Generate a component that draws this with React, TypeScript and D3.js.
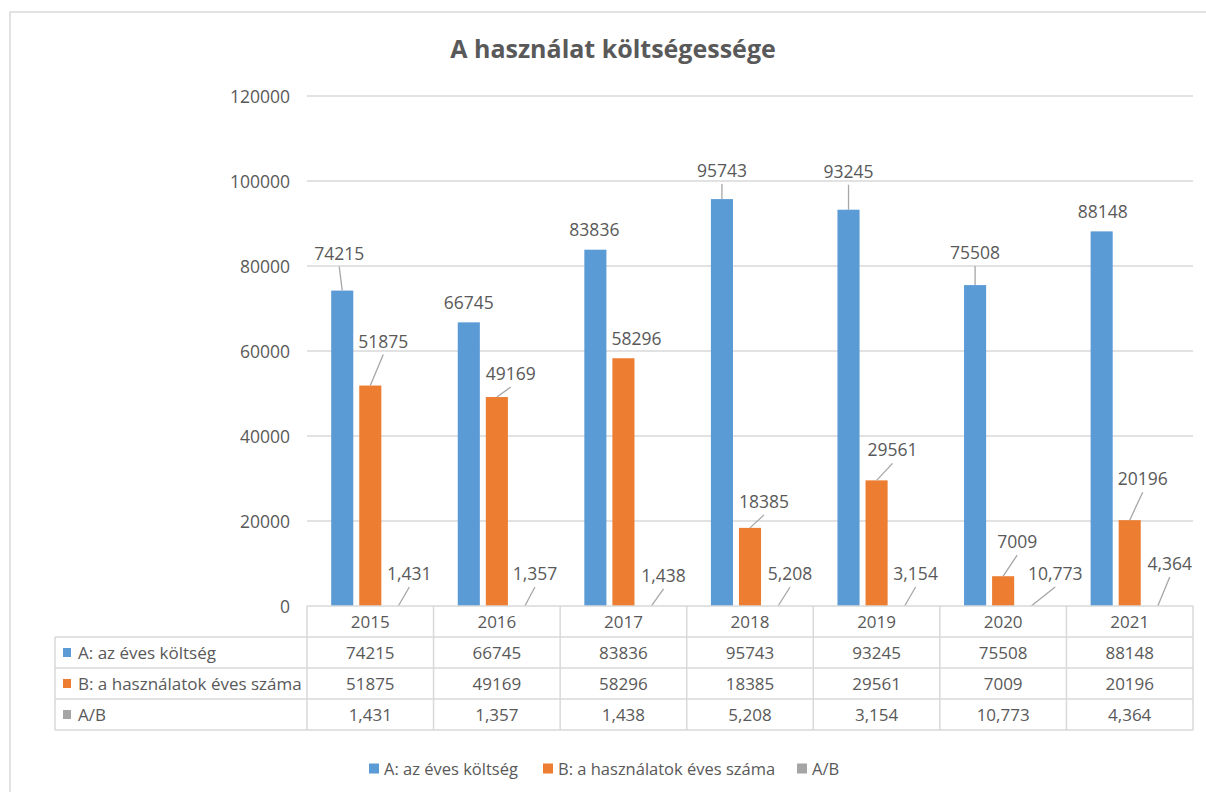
import React from "react";
import * as d3 from "d3";

// chart data
const years = ["2015", "2016", "2017", "2018", "2019", "2020", "2021"];
const seriesNames = ["A: az éves költség", "B: a használatok éves száma", "A/B"];
const costA = [74215, 66745, 83836, 95743, 93245, 75508, 88148];
const usesB = [51875, 49169, 58296, 18385, 29561, 7009, 20196];
const ratioAB = [1.431, 1.357, 1.438, 5.208, 3.154, 10.773, 4.364];
const yTicks = [0, 20000, 40000, 60000, 80000, 100000, 120000];

// manual label offsets (label centre relative to bar top centre), as dragged in the original
const labelOffsets: [number, number][][] = [
  [[-3, -38], [0, -20], [-1, -21], [0, -29], [0, -39], [0, -33], [1, -20]],
  [[13, -45], [14, -24], [13, -20], [14, -27], [16, -31], [14, -35], [13, -42]],
  [[11, -33], [10, -33], [12, -31], [12, -33], [11, -33], [24, -33], [12, -43]],
];

const colors = ["#5b9bd5", "#ed7d31", "#a5a5a5"];
const textColor = "#595959";
const gridColor = "#d9d9d9";
const font = "'Open Sans', 'Liberation Sans', sans-serif";

const W = 1206;
const H = 792;
const plot = { left: 307, right: 1193, top: 96, bottom: 606 };
const rowH = 31;
const tableLeft = 55;

const huLocale = d3.formatLocale({ decimal: ",", thousands: "\u00a0", grouping: [3], currency: ["", " Ft"] });
const fmtRatio = huLocale.format(".3f");
const fmtInt = d3.format("d");

const App: React.FC = () => {
  const values = [costA, usesB, ratioAB];
  const fmts = [fmtInt, fmtInt, fmtRatio];

  const x = d3.scaleBand<string>().domain(years).range([plot.left, plot.right]).padding(0);
  const step = x.step();
  const barW = step / 5.73; // excel: gap width 219%, overlap -27%
  const inner = d3
    .scaleBand<string>()
    .domain(seriesNames)
    .range([barW * 1.095, step - barW * 1.095])
    .paddingInner(0.27 / 1.27)
    .paddingOuter(0);

  const y = d3.scaleLinear().domain([0, 120000]).range([plot.bottom, plot.top]);

  const rowsTop = plot.bottom + rowH;
  const tableBottom = plot.bottom + rowH * 4;

  return (
    <svg
      width={W}
      height={H}
      style={{ position: "absolute", left: 0, top: 0, background: "#fff" }}
      fontFamily={font}
    >
      <rect x={10} y={12} width={W + 20} height={H + 20} fill="#fff" stroke={gridColor} strokeWidth={1.5} />

      <text x={613} y={48} textAnchor="middle" dominantBaseline="central" fontSize={25} fontWeight="bold" fill={textColor}>
        A használat költségessége
      </text>

      {/* gridlines + y ticks */}
      {yTicks.map((t) => (
        <g key={t}>
          {t > 0 && <line x1={plot.left} x2={plot.right} y1={y(t)} y2={y(t)} stroke={gridColor} strokeWidth={1.5} />}
          <text x={290} y={y(t)} textAnchor="end" dominantBaseline="central" fontSize={17.5} fill={textColor}>
            {t}
          </text>
        </g>
      ))}

      {/* bars */}
      {values.map((vals, si) =>
        vals.map((v, i) => {
          const bx = (x(years[i]) ?? 0) + (inner(seriesNames[si]) ?? 0);
          return (
            <rect
              key={`b${si}-${i}`}
              x={bx}
              y={y(v)}
              width={inner.bandwidth()}
              height={plot.bottom - y(v)}
              fill={colors[si]}
            />
          );
        })
      )}

      {/* data labels with leader lines */}
      {values.map((vals, si) =>
        vals.map((v, i) => {
          const cx = (x(years[i]) ?? 0) + (inner(seriesNames[si]) ?? 0) + inner.bandwidth() / 2;
          const top = y(v);
          const [dx, dy] = labelOffsets[si][i];
          const lx = cx + dx;
          const ly = top + dy;
          const gap = top - (ly + 14);
          return (
            <g key={`l${si}-${i}`}>
              {gap > 8 && (
                <line x1={lx} y1={ly + 14} x2={cx} y2={top} stroke="#a6a6a6" strokeWidth={1.3} />
              )}
              <text x={lx} y={ly} textAnchor="middle" dominantBaseline="central" fontSize={17.5} fill={textColor}>
                {fmts[si](v)}
              </text>
            </g>
          );
        })
      )}

      {/* data table */}
      <g stroke={gridColor} strokeWidth={1.5} fill="none">
        <line x1={plot.left} x2={plot.right} y1={plot.bottom} y2={plot.bottom} />
        {[1, 2, 3, 4].map((r) => (
          <line
            key={r}
            x1={tableLeft}
            x2={plot.right}
            y1={plot.bottom + rowH * r}
            y2={plot.bottom + rowH * r}
          />
        ))}
        <line x1={tableLeft} x2={tableLeft} y1={rowsTop} y2={tableBottom} />
        {years.map((yr) => (
          <line key={yr} x1={x(yr)} x2={x(yr)} y1={plot.bottom} y2={tableBottom} />
        ))}
        <line x1={plot.right} x2={plot.right} y1={plot.bottom} y2={tableBottom} />
      </g>

      {years.map((yr) => (
        <text
          key={`yr${yr}`}
          x={(x(yr) ?? 0) + step / 2}
          y={plot.bottom + rowH / 2}
          textAnchor="middle"
          dominantBaseline="central"
          fontSize={17}
          fill={textColor}
        >
          {yr}
        </text>
      ))}

      {seriesNames.map((name, si) => {
        const cy = rowsTop + rowH * si + rowH / 2;
        return (
          <g key={`row${si}`}>
            <rect x={63} y={cy - 4.5} width={8} height={9} fill={colors[si]} />
            <text x={78} y={cy} dominantBaseline="central" fontSize={17} fill={textColor}>
              {name}
            </text>
            {values[si].map((v, i) => (
              <text
                key={i}
                x={(x(years[i]) ?? 0) + step / 2}
                y={cy}
                textAnchor="middle"
                dominantBaseline="central"
                fontSize={17}
                fill={textColor}
              >
                {fmts[si](v)}
              </text>
            ))}
          </g>
        );
      })}

      {/* legend */}
      {seriesNames.map((name, si) => {
        const lx = [369, 543, 797][si];
        return (
          <g key={`lg${si}`}>
            <rect x={lx} y={763.5} width={10} height={10} fill={colors[si]} />
            <text x={lx + 15} y={768.5} dominantBaseline="central" fontSize={16.5} fill={textColor}>
              {name}
            </text>
          </g>
        );
      })}
    </svg>
  );
};

export default App;
